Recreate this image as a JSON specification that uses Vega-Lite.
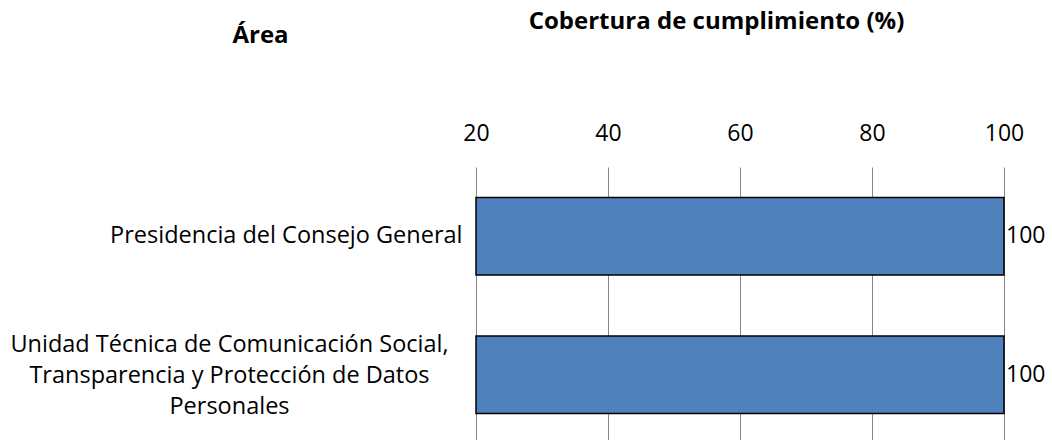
{
  "$schema": "https://vega.github.io/schema/vega-lite/v6.json",
  "autosize": "none",
  "width": 528,
  "height": 277,
  "padding": {"left": 476, "top": 167, "right": 48, "bottom": 0},
  "background": "white",
  "config": {"view": {"stroke": null}, "font": "Open Sans"},
  "data": {
    "values": [
      {"area": "Presidencia del Consejo General", "cobertura": 100},
      {"area": "Unidad Técnica de Comunicación Social, Transparencia y Protección de Datos Personales", "cobertura": 100}
    ]
  },
  "encoding": {
    "y": {
      "field": "area",
      "type": "nominal",
      "sort": null,
      "scale": {"paddingInner": 0.44, "paddingOuter": 0.22},
      "axis": {
        "title": "Área",
        "titleAngle": 0,
        "titleX": -216,
        "titleY": -132,
        "titleAlign": "center",
        "titleBaseline": "middle",
        "titleFontSize": 24,
        "titleFontWeight": "bold",
        "titleColor": "black",
        "domain": false,
        "ticks": false,
        "labelFontSize": 23.5,
        "labelColor": "black",
        "labelLimit": 700,
        "labelLineHeight": 31,
        "labelExpr": "indexof(datum.label, 'Unidad') == 0 ? ['Unidad Técnica de Comunicación Social,', 'Transparencia y Protección de Datos', 'Personales'] : datum.label",
        "labelAlign": {"condition": {"test": "indexof(datum.value, 'Unidad') == 0", "value": "center"}, "value": "right"},
        "labelPadding": {"condition": {"test": "indexof(datum.value, 'Unidad') == 0", "value": 247}, "value": 14},
        "labelOffset": {"condition": {"test": "indexof(datum.value, 'Unidad') == 0", "value": -30}, "value": 0}
      }
    }
  },
  "layer": [
    {
      "mark": {"type": "bar", "color": "#4F81BD", "stroke": "black", "strokeWidth": 1.5},
      "encoding": {
        "x": {
          "field": "cobertura",
          "type": "quantitative",
          "scale": {"domain": [20, 100], "zero": false, "nice": false},
          "axis": {
            "orient": "top",
            "values": [20, 40, 60, 80, 100],
            "title": "Cobertura de cumplimiento (%)",
            "titleFontSize": 24,
            "titleFontWeight": "bold",
            "titleColor": "black",
            "titleX": 240,
            "titleY": -146,
            "titleAlign": "center",
            "titleBaseline": "middle",
            "domain": false,
            "ticks": false,
            "grid": true,
            "gridColor": "#868686",
            "gridWidth": 1,
            "labelFontSize": 23,
            "labelColor": "black",
            "labelPadding": 22,
            "labelFlush": false
          }
        },
        "x2": {"datum": 20}
      }
    },
    {
      "mark": {"type": "text", "align": "left", "baseline": "middle", "dx": 2, "fontSize": 23, "color": "black"},
      "encoding": {
        "x": {"field": "cobertura", "type": "quantitative"},
        "text": {"field": "cobertura", "type": "quantitative"}
      }
    }
  ]
}
